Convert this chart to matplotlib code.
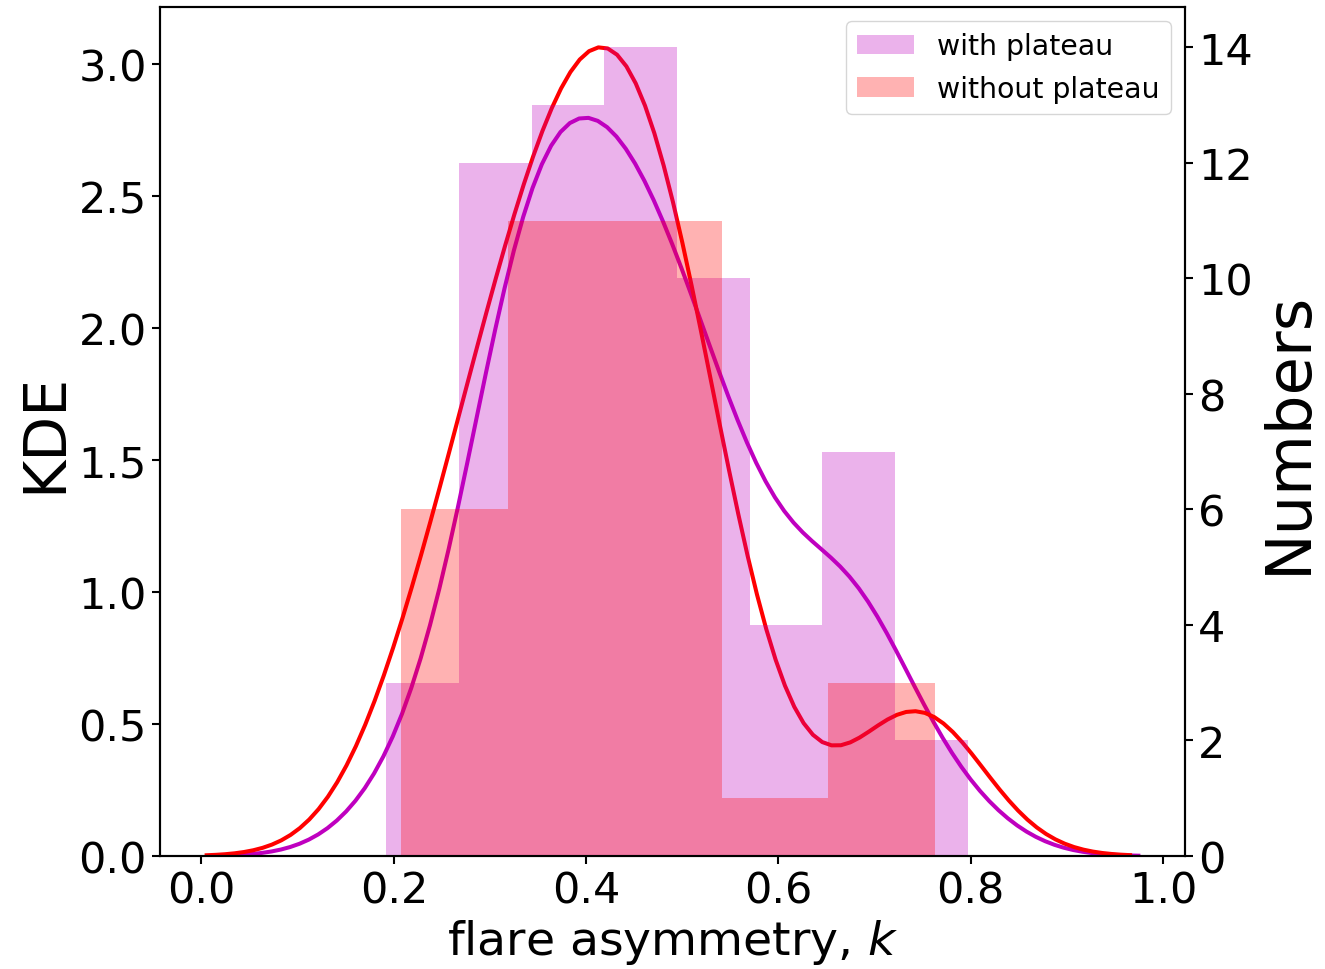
import numpy as np
import matplotlib
matplotlib.use('Agg')
import matplotlib.pyplot as plt

# flare asymmetry k of each event
k_plateau = [0.192, 0.235, 0.262,
             0.28, 0.29, 0.30, 0.31, 0.315, 0.32, 0.325, 0.33, 0.335, 0.338, 0.34, 0.342,
             0.35, 0.355, 0.36, 0.365, 0.37, 0.375, 0.38, 0.385, 0.39, 0.40, 0.405, 0.41, 0.417,
             0.425, 0.428, 0.43, 0.435, 0.44, 0.445, 0.45, 0.455, 0.46, 0.465, 0.47, 0.475, 0.48, 0.49,
             0.50, 0.51, 0.515, 0.52, 0.53, 0.535, 0.545, 0.55, 0.56, 0.568,
             0.58, 0.60, 0.62, 0.64,
             0.65, 0.66, 0.67, 0.68, 0.69, 0.70, 0.71,
             0.75, 0.797]
k_no_plateau = [0.208, 0.235, 0.26, 0.28, 0.295, 0.31,
                0.325, 0.335, 0.345, 0.355, 0.365, 0.375, 0.385, 0.395, 0.405, 0.415, 0.425,
                0.432, 0.44, 0.448, 0.456, 0.465, 0.474, 0.483, 0.493, 0.503, 0.515, 0.535,
                0.565,
                0.725, 0.745, 0.763]

labels = ['with plateau', 'without plateau']
colors = ['m', 'r']
n_bins = [8, 5]


def kde(x, cut=3, gridsize=100, clip_lo=0.0):
    x = np.asarray(x)
    bw = x.std(ddof=1) * len(x) ** (-1 / 5)
    lo = max(x.min() - cut * bw, clip_lo)
    hi = x.max() + cut * bw
    grid = np.linspace(lo, hi, gridsize)
    z = (grid[:, None] - x[None, :]) / bw
    dens = np.exp(-0.5 * z ** 2).sum(axis=1) / (len(x) * bw * np.sqrt(2 * np.pi))
    return grid, dens


fig = plt.figure(figsize=(13.25, 9.7), dpi=100)
ax = fig.add_axes([0.1208, 0.1165, 0.7735, 0.8753])
ax2 = ax.twinx()

for data, c in zip([k_plateau, k_no_plateau], colors):
    g, d = kde(data)
    ax.plot(g, d, color=c, lw=2.9)

for data, c, lab, nb in zip([k_plateau, k_no_plateau], colors, labels, n_bins):
    ax2.hist(data, bins=nb, color=c, alpha=0.3, label=lab)

ax.set_ylim(bottom=0)
ax2.set_ylim(bottom=0)

ax.set_xlabel('flare asymmetry, $k$', fontsize=34)
ax.set_ylabel('KDE', fontsize=42)
ax2.set_ylabel('Numbers', fontsize=45)
ax.set_xticks([0.0, 0.2, 0.4, 0.6, 0.8, 1.0])
for a in (ax, ax2):
    a.tick_params(labelsize=31, length=6, width=1.5)
    for s in a.spines.values():
        s.set_linewidth(1.5)

ax2.legend(loc='upper right', fontsize=20.4)

fig.savefig('out.png', dpi=100)
